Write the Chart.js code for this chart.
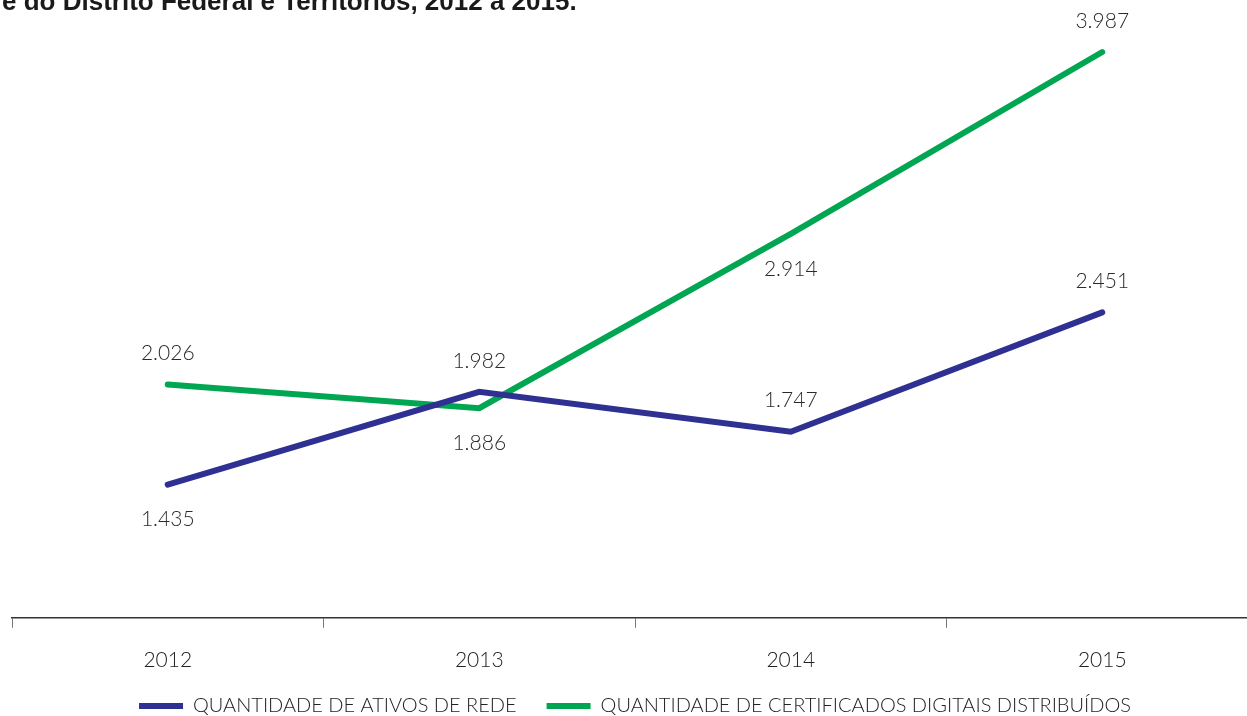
<!DOCTYPE html>
<html lang="pt-BR">
<head>
<meta charset="utf-8">
<title>Ativos de rede e certificados digitais, 2012 a 2015</title>
<script src="https://cdn.jsdelivr.net/npm/chart.js@4"></script>
<style>
    html, body { margin: 0; padding: 0; background: #fff; overflow: hidden; }
    #wrap { position: relative; width: 1260px; height: 716px; }
    #titulo {
        position: absolute; left: 2px; top: -12px; margin: 0;
        font: bold 26px "Liberation Sans", Arial, sans-serif; line-height: 26px;
        color: #1a1a1a; white-space: nowrap; z-index: 2;
    }
    canvas { position: absolute; left: 0; top: 0; }
</style>
</head>
<body>
<div id="wrap">
    <p id="titulo">e do Distrito Federal e Territórios, 2012 a 2015.</p>
    <canvas id="grafico" width="1260" height="716"></canvas>
</div>
<script>
// anos e séries
const anos = ['2012', '2013', '2014', '2015'];
const ativosRede = [1435, 1982, 1747, 2451];
const certificados = [2026, 1886, 2914, 3987];

// rótulo acima (true) ou abaixo (false) do ponto
const ativosAcima = [false, true, true, true];
const certAcima = [true, false, false, true];

const AZUL = '#2E3192';
const VERDE = '#00A651';
const FONTE = 'Lato, "Open Sans", sans-serif';

function fmt(v) {
    return v.toLocaleString('pt-BR');
}

// escreve o valor de cada ponto acima ou abaixo da linha
const rotulosValores = {
    id: 'rotulosValores',
    afterDatasetsDraw(chart) {
        const ctx = chart.ctx;
        ctx.save();
        ctx.font = '300 21px ' + FONTE;
        ctx.fillStyle = '#2a2a2a';
        ctx.textAlign = 'center';
        ctx.textBaseline = 'middle';
        chart.data.datasets.forEach((ds, i) => {
            const meta = chart.getDatasetMeta(i);
            meta.data.forEach((pt, j) => {
                const dy = ds.acima[j] ? -31 : 35;
                ctx.fillText(fmt(ds.data[j]), pt.x, pt.y + dy);
            });
        });
        ctx.restore();
    }
};

// aproxima a legenda dos anos sem mexer no espaçamento entre os itens
const subirLegenda = {
    id: 'subirLegenda',
    afterLayout(chart) {
        if (chart.legend) {
            chart.legend.top -= 27;
            chart.legend.bottom -= 27;
        }
    }
};

new Chart(document.getElementById('grafico'), {
    type: 'line',
    data: {
        labels: anos,
        datasets: [
            {
                label: 'QUANTIDADE DE ATIVOS DE REDE',
                data: ativosRede,
                acima: ativosAcima,
                borderColor: AZUL,
                backgroundColor: AZUL,
                borderWidth: 6,
                borderCapStyle: 'round',
                borderJoinStyle: 'miter',
                pointRadius: 0,
                pointStyle: 'line',
                tension: 0
            },
            {
                label: 'QUANTIDADE DE CERTIFICADOS DIGITAIS DISTRIBUÍDOS',
                data: certificados,
                acima: certAcima,
                borderColor: VERDE,
                backgroundColor: VERDE,
                borderWidth: 6,
                borderCapStyle: 'round',
                borderJoinStyle: 'miter',
                pointRadius: 0,
                pointStyle: 'line',
                tension: 0
            }
        ]
    },
    options: {
        responsive: false,
        animation: false,
        layout: { padding: { left: 12, right: 2, top: 0, bottom: -37 } },
        scales: {
            x: {
                offset: true,
                grid: {
                    display: true,
                    offset: true,
                    drawOnChartArea: false,
                    drawTicks: true,
                    tickLength: 10,
                    tickColor: '#777777',
                    tickWidth: 1
                },
                border: { display: true, color: '#333333', width: 1.5 },
                ticks: {
                    color: '#222222',
                    font: { family: FONTE, size: 21, weight: 300 },
                    padding: 20
                }
            },
            y: {
                display: false,
                min: 649,
                max: 4294
            }
        },
        plugins: {
            legend: {
                position: 'bottom',
                labels: {
                    usePointStyle: true,
                    pointStyleWidth: 44,
                    boxHeight: 6,
                    color: '#222222',
                    font: { family: FONTE, size: 20, weight: 300 },
                    padding: 30
                }
            },
            tooltip: { enabled: false }
        }
    },
    plugins: [rotulosValores, subirLegenda]
});
</script>
</body>
</html>
